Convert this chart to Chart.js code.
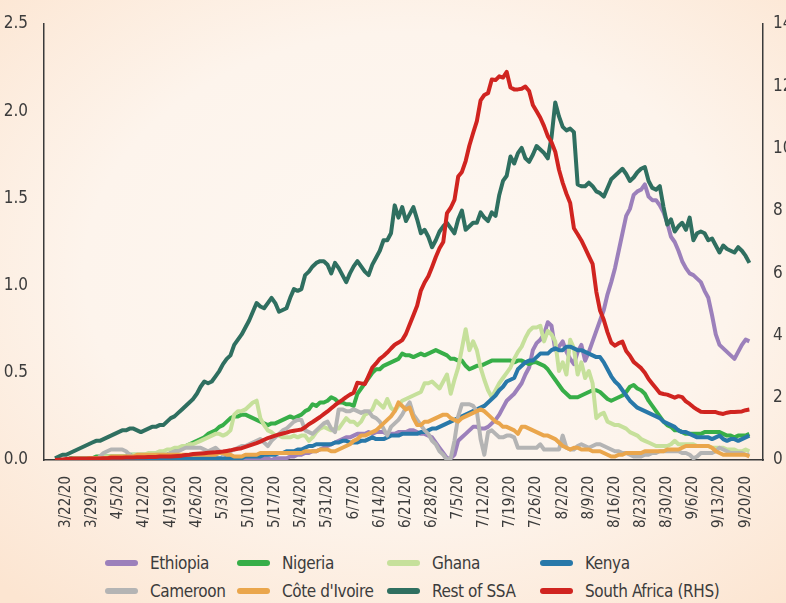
<!DOCTYPE html>
<html>
<head>
<meta charset="utf-8">
<script src="https://cdn.jsdelivr.net/npm/chart.js@4.4.1/dist/chart.umd.min.js"></script>
<style>
  html, body { margin: 0; padding: 0; }
  body {
    width: 786px; height: 603px; overflow: hidden; position: relative;
    background: radial-gradient(ellipse 75% 72% at 52% 45%, #fdf7f1 0%, #fdf4ec 55%, #fce5d1 100%);
    font-family: "DejaVu Sans Condensed", "Liberation Sans", sans-serif;
    color: #3c3c3c;
  }
  #chart { position: absolute; left: 0; top: 0; }
  #legend { position: absolute; left: 0; top: 548px; width: 786px; height: 55px; }
  .item { position: absolute; display: flex; align-items: center; font-size: 17px; letter-spacing: -0.4px; white-space: nowrap; line-height: 22px; }
  .swatch { width: 33px; height: 6px; border-radius: 3px; margin-right: 12px; }
</style>
</head>
<body>
<canvas id="chart" width="786" height="548"></canvas>
<div id="legend"></div>
<script>
// daily values from 3/19/20 (day 0) to 9/21/20 (day 186)
const tickLabels = ['3/22/20','3/29/20','4/5/20','4/12/20','4/19/20','4/26/20','5/3/20','5/10/20',
  '5/17/20','5/24/20','5/31/20','6/7/20','6/14/20','6/21/20','6/28/20','7/5/20','7/12/20','7/19/20',
  '7/26/20','8/2/20','8/9/20','8/16/20','8/23/20','8/30/20','9/6/20','9/13/20','9/20/20'];
const firstTickDay = 3;   // 3/22/20
const tickStep = 7;

const ethiopia = [
  0,0,0,0,0,0,0,0,0,0,
  0,0,0,0,0,0,0,0,0,0,
  0,0,0,0,0,0,0,0,0,0,
  0,0,0,0,0,0,0,0,0,0,
  0.00,0.00,0.00,0.01,0.00,0.00,0.01,0.01,0.00,0.00,
  0.01,0.01,0.01,0.00,0.00,0.01,0.01,0.01,0.00,0.01,
  0.01,0.01,0.01,0.02,0.02,0.03,0.03,0.04,0.04,0.05,
  0.05,0.06,0.07,0.08,0.09,0.10,0.11,0.12,0.13,0.13,
  0.14,0.15,0.15,0.15,0.16,0.15,0.16,0.16,0.16,0.15,
  0.15,0.15,0.16,0.16,0.16,0.17,0.17,0.16,0.15,0.15,
  0.14,0.13,0.10,0.07,0.04,0.01,0.01,0.03,0.11,0.13,
  0.15,0.17,0.19,0.19,0.18,0.18,0.19,0.21,0.23,0.26,
  0.30,0.34,0.36,0.38,0.41,0.44,0.49,0.53,0.63,0.67,
  0.69,0.72,0.79,0.77,0.63,0.65,0.68,0.62,0.58,0.55,
  0.62,0.66,0.57,0.62,0.68,0.74,0.80,0.86,0.95,1.02,
  1.10,1.20,1.30,1.40,1.44,1.52,1.54,1.55,1.58,1.51,
  1.49,1.49,1.46,1.42,1.36,1.28,1.25,1.20,1.14,1.10,
  1.07,1.06,1.04,1.02,0.97,0.93,0.83,0.72,0.66,0.64,
  0.62,0.60,0.58,0.62,0.66,0.69,0.68];

const nigeria = [
  0.00,0.00,0.00,0.00,0.01,0.01,0.01,0.01,0.01,0.01,
  0.01,0.02,0.02,0.02,0.02,0.02,0.02,0.02,0.02,0.02,
  0.03,0.03,0.03,0.03,0.03,0.03,0.03,0.03,0.03,0.03,
  0.03,0.04,0.05,0.06,0.07,0.08,0.09,0.10,0.11,0.12,
  0.13,0.15,0.16,0.17,0.19,0.20,0.22,0.24,0.25,0.25,
  0.26,0.26,0.25,0.24,0.23,0.22,0.21,0.20,0.21,0.21,
  0.22,0.23,0.24,0.25,0.24,0.25,0.26,0.28,0.29,0.32,
  0.31,0.33,0.33,0.34,0.36,0.35,0.33,0.33,0.32,0.32,
  0.31,0.38,0.41,0.44,0.47,0.50,0.52,0.52,0.54,0.55,
  0.56,0.57,0.58,0.61,0.60,0.60,0.59,0.60,0.61,0.60,
  0.61,0.62,0.63,0.62,0.61,0.60,0.58,0.58,0.57,0.57,
  0.54,0.52,0.53,0.54,0.54,0.55,0.56,0.57,0.57,0.57,
  0.57,0.57,0.57,0.56,0.57,0.57,0.56,0.55,0.56,0.56,
  0.55,0.54,0.52,0.49,0.46,0.43,0.40,0.38,0.36,0.36,
  0.36,0.37,0.38,0.39,0.40,0.40,0.39,0.37,0.35,0.34,
  0.35,0.36,0.37,0.39,0.42,0.43,0.41,0.40,0.38,0.34,
  0.31,0.28,0.25,0.22,0.20,0.19,0.17,0.17,0.16,0.15,
  0.15,0.15,0.15,0.15,0.16,0.16,0.16,0.16,0.16,0.15,
  0.14,0.14,0.13,0.14,0.14,0.14,0.15];

const ghana = [
  0.00,0.00,0.00,0.00,0.00,0.01,0.01,0.01,0.01,0.01,
  0.01,0.01,0.01,0.02,0.02,0.02,0.02,0.02,0.02,0.02,
  0.02,0.03,0.03,0.03,0.03,0.04,0.04,0.04,0.05,0.05,
  0.06,0.06,0.07,0.07,0.08,0.08,0.09,0.09,0.10,0.11,
  0.12,0.13,0.14,0.15,0.15,0.14,0.15,0.17,0.26,0.28,
  0.28,0.29,0.31,0.33,0.34,0.24,0.20,0.17,0.16,0.14,
  0.14,0.13,0.13,0.13,0.14,0.13,0.14,0.14,0.11,0.13,
  0.16,0.18,0.19,0.18,0.17,0.18,0.18,0.21,0.24,0.22,
  0.22,0.20,0.22,0.26,0.27,0.29,0.34,0.32,0.30,0.35,
  0.30,0.28,0.31,0.34,0.35,0.36,0.37,0.38,0.39,0.44,
  0.44,0.45,0.43,0.41,0.45,0.49,0.38,0.46,0.53,0.64,
  0.75,0.63,0.68,0.63,0.53,0.46,0.40,0.36,0.40,0.44,
  0.47,0.50,0.53,0.58,0.62,0.65,0.70,0.74,0.76,0.76,
  0.77,0.68,0.74,0.72,0.68,0.51,0.56,0.49,0.69,0.64,
  0.49,0.56,0.47,0.51,0.44,0.24,0.26,0.27,0.22,0.21,
  0.20,0.20,0.19,0.18,0.16,0.15,0.14,0.12,0.11,0.10,
  0.09,0.08,0.08,0.08,0.08,0.09,0.11,0.09,0.09,0.09,
  0.09,0.09,0.08,0.08,0.08,0.08,0.07,0.07,0.07,0.07,
  0.06,0.06,0.06,0.05,0.05,0.06,0.05];

const kenya = [
  0,0,0,0,0,0,0,0,0,0,
  0,0,0,0,0,0,0,0,0,0,
  0.00,0.01,0.01,0.01,0.01,0.01,0.01,0.01,0.01,0.01,
  0.01,0.01,0.01,0.01,0.01,0.01,0.01,0.01,0.01,0.01,
  0.01,0.01,0.01,0.01,0.01,0.01,0.01,0.01,0.01,0.01,
  0.01,0.02,0.02,0.02,0.02,0.02,0.03,0.03,0.03,0.03,
  0.04,0.04,0.05,0.05,0.05,0.06,0.06,0.07,0.08,0.08,
  0.09,0.09,0.09,0.09,0.09,0.10,0.10,0.11,0.11,0.10,
  0.10,0.10,0.11,0.11,0.12,0.13,0.12,0.12,0.12,0.13,
  0.14,0.14,0.14,0.15,0.15,0.15,0.15,0.15,0.16,0.16,
  0.17,0.18,0.18,0.19,0.20,0.21,0.22,0.23,0.24,0.25,
  0.26,0.27,0.28,0.29,0.30,0.31,0.33,0.35,0.37,0.40,
  0.42,0.45,0.46,0.47,0.52,0.54,0.56,0.57,0.57,0.59,
  0.61,0.61,0.61,0.63,0.64,0.63,0.63,0.65,0.65,0.64,
  0.63,0.63,0.62,0.61,0.60,0.59,0.59,0.56,0.52,0.48,
  0.45,0.43,0.40,0.37,0.34,0.32,0.30,0.29,0.28,0.27,
  0.26,0.25,0.24,0.22,0.21,0.20,0.19,0.17,0.16,0.16,
  0.15,0.14,0.13,0.13,0.13,0.13,0.12,0.13,0.14,0.12,
  0.11,0.12,0.12,0.11,0.12,0.13,0.14];

const cameroon = [
  0,0,0,0,0,0,0,0,0,0,
  0.00,0.00,0.02,0.04,0.05,0.06,0.06,0.06,0.06,0.05,
  0.03,0.02,0.02,0.02,0.02,0.02,0.02,0.03,0.03,0.03,
  0.03,0.04,0.05,0.05,0.06,0.07,0.07,0.07,0.07,0.07,
  0.06,0.05,0.06,0.07,0.05,0.03,0.04,0.05,0.06,0.07,
  0.08,0.08,0.09,0.10,0.11,0.12,0.10,0.08,0.11,0.13,
  0.15,0.17,0.18,0.20,0.22,0.23,0.23,0.17,0.16,0.15,
  0.17,0.19,0.21,0.22,0.18,0.16,0.29,0.29,0.28,0.28,
  0.29,0.28,0.27,0.28,0.28,0.25,0.24,0.22,0.18,0.14,
  0.19,0.21,0.23,0.26,0.30,0.33,0.26,0.23,0.20,0.17,
  0.15,0.11,0.09,0.05,0.03,0.00,0.01,0.11,0.25,0.32,
  0.32,0.32,0.31,0.28,0.12,0.03,0.16,0.17,0.15,0.13,
  0.13,0.14,0.14,0.13,0.07,0.07,0.07,0.07,0.07,0.07,
  0.09,0.06,0.06,0.06,0.06,0.06,0.14,0.07,0.06,0.06,
  0.08,0.09,0.08,0.07,0.08,0.09,0.09,0.08,0.07,0.06,
  0.05,0.05,0.04,0.04,0.03,0.02,0.02,0.02,0.03,0.03,
  0.04,0.04,0.05,0.05,0.05,0.05,0.05,0.05,0.04,0.04,
  0.03,0.01,0.02,0.04,0.04,0.04,0.04,0.05,0.07,0.06,
  0.05,0.04,0.04,0.04,0.04,0.03,0.03];

const coteDIvoire = [
  0,0,0,0,0,0,0,0,0,0.01,
  0.01,0.01,0.01,0.01,0.01,0.02,0.02,0.02,0.02,0.02,
  0.02,0.02,0.03,0.03,0.03,0.03,0.03,0.03,0.03,0.03,
  0.03,0.03,0.03,0.03,0.03,0.03,0.03,0.03,0.03,0.03,
  0.03,0.03,0.03,0.03,0.04,0.04,0.03,0.03,0.02,0.02,
  0.02,0.03,0.03,0.03,0.03,0.04,0.04,0.04,0.04,0.04,
  0.04,0.04,0.04,0.04,0.04,0.04,0.04,0.05,0.05,0.05,
  0.05,0.06,0.06,0.06,0.05,0.05,0.06,0.07,0.08,0.09,
  0.11,0.12,0.14,0.14,0.15,0.16,0.17,0.19,0.21,0.23,
  0.25,0.28,0.33,0.31,0.29,0.30,0.24,0.20,0.20,0.22,
  0.22,0.23,0.24,0.25,0.26,0.26,0.24,0.23,0.22,0.24,
  0.25,0.26,0.27,0.28,0.29,0.28,0.26,0.24,0.22,0.21,
  0.19,0.19,0.18,0.17,0.15,0.19,0.19,0.18,0.17,0.16,
  0.15,0.14,0.14,0.13,0.12,0.10,0.08,0.07,0.06,0.07,
  0.07,0.06,0.06,0.06,0.05,0.05,0.05,0.04,0.03,0.02,
  0.02,0.03,0.03,0.04,0.04,0.04,0.04,0.04,0.05,0.05,
  0.05,0.05,0.05,0.05,0.06,0.06,0.06,0.06,0.07,0.08,
  0.08,0.08,0.08,0.08,0.08,0.08,0.07,0.05,0.04,0.03,
  0.03,0.03,0.03,0.03,0.03,0.03,0.02];

const restOfSSA = [
  0.01,0.02,0.03,0.03,0.04,0.05,0.06,0.07,0.08,0.09,
  0.10,0.11,0.11,0.12,0.13,0.14,0.15,0.16,0.17,0.17,
  0.18,0.18,0.17,0.16,0.17,0.18,0.19,0.19,0.20,0.20,
  0.22,0.24,0.25,0.27,0.29,0.31,0.33,0.35,0.38,0.42,
  0.45,0.44,0.45,0.48,0.51,0.55,0.58,0.60,0.66,0.69,
  0.72,0.76,0.80,0.85,0.90,0.88,0.87,0.90,0.93,0.90,
  0.85,0.86,0.87,0.93,0.98,0.97,0.98,1.06,1.08,1.11,
  1.13,1.14,1.14,1.12,1.07,1.13,1.10,1.06,1.02,1.07,
  1.11,1.14,1.11,1.08,1.06,1.12,1.16,1.20,1.26,1.26,
  1.30,1.46,1.39,1.45,1.37,1.41,1.45,1.38,1.30,1.32,
  1.28,1.22,1.26,1.31,1.34,1.36,1.33,1.30,1.38,1.43,
  1.32,1.34,1.36,1.36,1.42,1.39,1.37,1.42,1.40,1.52,
  1.60,1.63,1.74,1.70,1.76,1.79,1.73,1.71,1.75,1.80,
  1.78,1.76,1.73,1.85,2.05,1.97,1.91,1.89,1.90,1.88,
  1.58,1.57,1.57,1.59,1.57,1.54,1.53,1.51,1.56,1.61,
  1.63,1.65,1.67,1.64,1.60,1.62,1.65,1.67,1.68,1.60,
  1.56,1.55,1.57,1.45,1.35,1.38,1.31,1.34,1.36,1.32,
  1.39,1.26,1.30,1.31,1.30,1.26,1.27,1.23,1.19,1.23,
  1.21,1.20,1.19,1.22,1.20,1.17,1.13];

// right-hand scale
const southAfrica = [
  0.00,0.01,0.02,0.03,0.04,0.05,0.05,0.05,0.05,0.05,
  0.05,0.05,0.05,0.06,0.06,0.07,0.07,0.07,0.07,0.08,
  0.08,0.08,0.09,0.09,0.09,0.10,0.10,0.10,0.11,0.11,
  0.11,0.11,0.12,0.13,0.14,0.16,0.17,0.19,0.20,0.21,
  0.22,0.23,0.24,0.25,0.26,0.27,0.29,0.31,0.34,0.36,
  0.38,0.42,0.46,0.50,0.54,0.59,0.65,0.70,0.74,0.78,
  0.82,0.85,0.88,0.92,0.94,0.96,0.98,1.05,1.15,1.22,
  1.30,1.38,1.47,1.56,1.66,1.76,1.85,1.93,2.02,2.10,
  2.16,2.48,2.46,2.44,2.70,2.97,3.10,3.25,3.34,3.45,
  3.58,3.70,3.77,3.85,4.05,4.35,4.65,4.95,5.44,5.70,
  5.90,6.20,6.52,6.80,7.00,7.93,8.10,8.35,9.10,9.25,
  9.60,10.10,10.50,10.88,11.55,11.72,11.78,12.22,12.20,12.32,
  12.28,12.46,11.96,11.90,11.90,11.92,11.99,11.85,11.40,11.20,
  10.99,10.72,10.40,10.20,9.90,9.32,8.90,8.55,8.25,7.44,
  7.25,7.05,6.80,6.55,6.30,5.40,4.80,4.50,4.10,3.77,
  3.67,3.75,3.80,3.50,3.35,3.15,3.05,2.95,2.80,2.60,
  2.45,2.30,2.15,2.12,2.10,2.05,2.00,2.05,2.02,1.88,
  1.80,1.70,1.62,1.55,1.54,1.54,1.54,1.54,1.50,1.48,
  1.52,1.54,1.54,1.55,1.56,1.60,1.62];

const seriesNames = ['Ethiopia', 'Nigeria', 'Ghana', 'Kenya',
  'Cameroon', "Côte d'Ivoire", 'Rest of SSA', 'South Africa (RHS)'];
const seriesData = [ethiopia, nigeria, ghana, kenya, cameroon, coteDIvoire, restOfSSA, southAfrica];
const seriesColors = ['#9c80bb', '#37ae48', '#c6e09b', '#2878a9', '#b4b4b4', '#eaa64c', '#2f6f60', '#d02420'];

const txt = '#3c3c3c';
const fam = '"DejaVu Sans Condensed", "Liberation Sans", sans-serif';
const axisLine = { display: true, color: '#3a3a3a', width: 1.5 };

const datasets = seriesData.map((arr, k) => ({
  label: seriesNames[k],
  data: arr.map((v, i) => ({ x: i, y: v })),
  borderColor: seriesColors[k],
  backgroundColor: seriesColors[k],
  borderWidth: 4,
  pointRadius: 0,
  borderJoinStyle: 'round',
  tension: 0,
  yAxisID: k === 7 ? 'y2' : 'y',
  order: 8 - k
}));

new Chart(document.getElementById('chart'), {
  type: 'line',
  data: { datasets },
  options: {
    responsive: false,
    animation: false,
    layout: { padding: { top: 24, left: 0, right: 0, bottom: 0 } },
    plugins: { legend: { display: false }, tooltip: { enabled: false } },
    scales: {
      x: {
        type: 'linear',
        min: -2.95,
        max: 189.65,
        afterBuildTicks: s => {
          s.ticks = tickLabels.map((l, k) => ({ value: firstTickDay + tickStep * k }));
        },
        ticks: {
          autoSkip: false, minRotation: 90, maxRotation: 90, padding: 8,
          color: txt, font: { family: fam, size: 15 },
          callback: (v, idx) => tickLabels[idx]
        },
        grid: { display: false },
        border: axisLine,
        afterFit: s => { s.height = 88; }
      },
      y: {
        position: 'left', min: 0, max: 2.5,
        ticks: { stepSize: 0.5, padding: 8, color: txt, font: { family: fam, size: 17 },
          callback: v => v.toFixed(1) },
        grid: { display: false },
        border: axisLine,
        afterFit: s => { s.width = 44; }
      },
      y2: {
        position: 'right', min: 0, max: 14,
        ticks: { stepSize: 2, padding: 2, color: txt, font: { family: fam, size: 17 } },
        grid: { display: false },
        border: axisLine,
        afterFit: s => { s.width = 23; }
      }
    }
  }
});

// legend, 4 columns x 2 rows
const colX = [105, 237, 387, 540];
const rowY = [4, 32];
const legend = document.getElementById('legend');
seriesNames.forEach((name, k) => {
  const item = document.createElement('div');
  item.className = 'item';
  item.style.left = colX[k % 4] + 'px';
  item.style.top = rowY[Math.floor(k / 4)] + 'px';
  const sw = document.createElement('span');
  sw.className = 'swatch';
  sw.style.background = seriesColors[k];
  const lab = document.createElement('span');
  lab.textContent = name;
  item.appendChild(sw);
  item.appendChild(lab);
  legend.appendChild(item);
});
</script>
</body>
</html>
